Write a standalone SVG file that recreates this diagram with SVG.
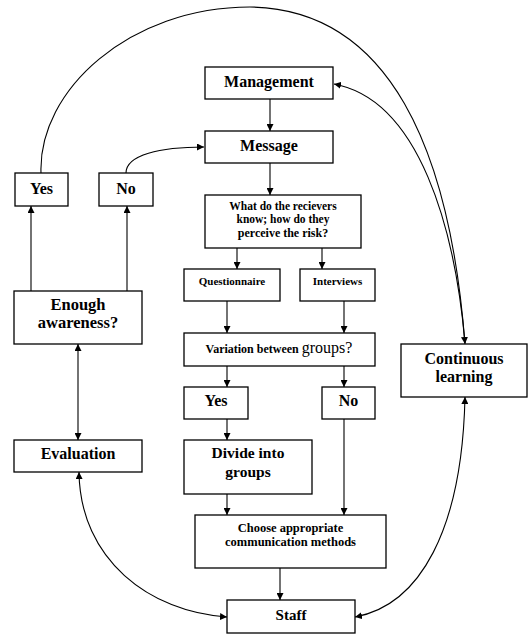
<svg xmlns="http://www.w3.org/2000/svg" width="528" height="635" viewBox="0 0 528 635">
<style>
.box{fill:#fff;stroke:#000;stroke-width:1.3}
text{font-family:"Liberation Serif","Times New Roman",serif;font-weight:bold;text-anchor:middle;fill:#000}
.c{fill:none;stroke:#000;stroke-width:1.1}
</style>
<defs>
<marker id="ah" viewBox="0 0 10 10" refX="10" refY="5" markerWidth="7" markerHeight="7" markerUnits="userSpaceOnUse" orient="auto-start-reverse">
<path d="M0,0 L10,5 L0,10 z" fill="#000"/>
</marker>
</defs>
<g id="connectors">
<line class="c" x1="270" y1="99" x2="270" y2="131" marker-end="url(#ah)"/>
<line class="c" x1="270" y1="163" x2="270" y2="195" marker-end="url(#ah)"/>
<line class="c" x1="237" y1="248" x2="237" y2="269" marker-end="url(#ah)"/>
<line class="c" x1="322" y1="248" x2="322" y2="269" marker-end="url(#ah)"/>
<line class="c" x1="227" y1="301" x2="227" y2="333" marker-end="url(#ah)"/>
<line class="c" x1="344" y1="301" x2="344" y2="333" marker-end="url(#ah)"/>
<line class="c" x1="227" y1="366" x2="227" y2="387" marker-end="url(#ah)"/>
<line class="c" x1="344" y1="366" x2="344" y2="387" marker-end="url(#ah)"/>
<line class="c" x1="227" y1="419" x2="227" y2="440" marker-end="url(#ah)"/>
<line class="c" x1="227" y1="494" x2="227" y2="515" marker-end="url(#ah)"/>
<line class="c" x1="344" y1="419" x2="344" y2="515" marker-end="url(#ah)"/>
<line class="c" x1="280" y1="568" x2="280" y2="600" marker-end="url(#ah)"/>
<line class="c" x1="31" y1="291" x2="31" y2="206" marker-end="url(#ah)"/>
<line class="c" x1="127" y1="291" x2="127" y2="206" marker-end="url(#ah)"/>
<line class="c" x1="78" y1="440" x2="78" y2="344" marker-start="url(#ah)" marker-end="url(#ah)"/>
<path class="c" d="M126 173 C126 155 160 147 204 147" marker-end="url(#ah)"/>
<path class="c" d="M41 173 C38 90 130 7 250 7 C390 9 450 150 465 344" marker-end="url(#ah)"/>
<path class="c" d="M465 343 C455 230 420 100 334 84" marker-end="url(#ah)"/>
<path class="c" d="M79 472 C80 560 150 612 227 617" marker-start="url(#ah)" marker-end="url(#ah)"/>
<path class="c" d="M355 617 C420 605 462 530 465 397" marker-start="url(#ah)" marker-end="url(#ah)"/>
</g>
<g id="management"><rect class="box" x="205" y="67" width="128" height="32"/><text x="269" y="87" font-size="16">Management</text></g>
<g id="message"><rect class="box" x="205" y="131" width="128" height="32"/><text x="269" y="151" font-size="16">Message</text></g>
<g id="yes-left"><rect class="box" x="15" y="173" width="53" height="33"/><text x="41.5" y="194" font-size="16">Yes</text></g>
<g id="no-left"><rect class="box" x="99" y="173" width="54" height="33"/><text x="126" y="194" font-size="16">No</text></g>
<g id="what"><rect class="box" x="205" y="195" width="156" height="53"/>
<text x="283" y="210" font-size="11.5">What do the recievers</text>
<text x="283" y="223" font-size="11.5">know; how do they</text>
<text x="283" y="237" font-size="12">perceive the risk?</text></g>
<g id="questionnaire"><rect class="box" x="184" y="269" width="96" height="32"/><text x="232" y="285" font-size="11">Questionnaire</text></g>
<g id="interviews"><rect class="box" x="300" y="269" width="75" height="32"/><text x="337.5" y="285" font-size="11">Interviews</text></g>
<g id="enough"><rect class="box" x="14" y="291" width="128" height="53"/><text x="78" y="310" font-size="16.5">Enough</text><text x="78" y="328" font-size="16.5">awareness?</text></g>
<g id="variation"><rect class="box" x="184" y="333" width="191" height="33"/><text x="279" y="353" font-size="12">Variation between <tspan font-size="16" font-weight="normal">groups?</tspan></text></g>
<g id="continuous"><rect class="box" x="401" y="344" width="126" height="53"/><text x="464" y="364" font-size="16">Continuous</text><text x="464" y="382" font-size="16">learning</text></g>
<g id="yes-mid"><rect class="box" x="184" y="387" width="64" height="32"/><text x="216" y="406" font-size="16">Yes</text></g>
<g id="no-mid"><rect class="box" x="322" y="387" width="53" height="32"/><text x="348.5" y="406" font-size="16">No</text></g>
<g id="evaluation"><rect class="box" x="14" y="440" width="128" height="32"/><text x="78" y="459" font-size="16">Evaluation</text></g>
<g id="divide"><rect class="box" x="184" y="440" width="128" height="54"/><text x="248" y="458" font-size="15.5">Divide into</text><text x="248" y="477" font-size="15.5">groups</text></g>
<g id="choose"><rect class="box" x="195" y="515" width="191" height="53"/><text x="290.5" y="532" font-size="12.5">Choose appropriate</text><text x="290.5" y="546" font-size="12.5">communication methods</text></g>
<g id="staff"><rect class="box" x="227" y="600" width="128" height="33"/><text x="291" y="620" font-size="15">Staff</text></g>
</svg>
